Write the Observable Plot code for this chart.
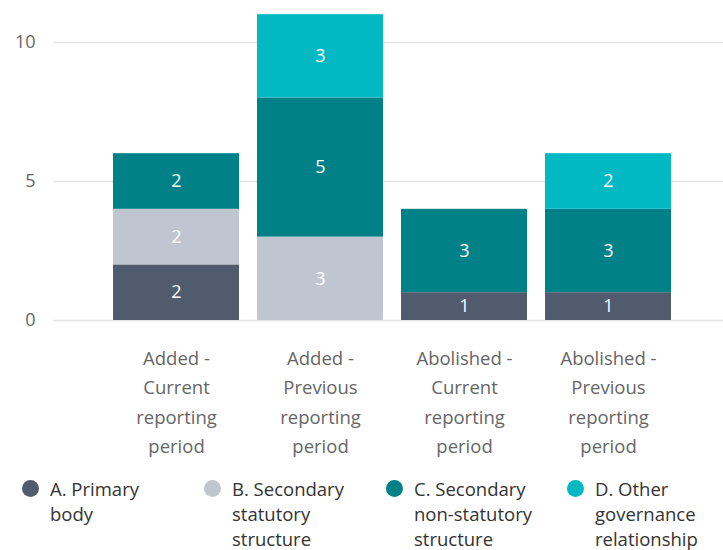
<!DOCTYPE html>
<html>
<head>
<meta charset="utf-8">
<script src="https://cdn.jsdelivr.net/npm/d3@7"></script>
<script src="https://cdn.jsdelivr.net/npm/@observablehq/plot@0.6"></script>
<style>
  html, body { margin: 0; padding: 0; background: #fff; }
  body { width: 723px; height: 550px; overflow: hidden; font-family: "Open Sans", sans-serif; position: relative; }
  #legend { position: absolute; left: 0; top: 476px; width: 723px; height: 74px; }
  .item { position: absolute; top: 0; font-size: 18.5px; line-height: 25px; color: #333; white-space: pre-line; }
  .dot { position: absolute; width: 17px; height: 17px; border-radius: 50%; top: 4px; }
</style>
</head>
<body>
<div id="chart"></div>
<div id="legend"></div>
<script>
const categories = [
  "Added - Current reporting period",
  "Added - Previous reporting period",
  "Abolished - Current reporting period",
  "Abolished - Previous reporting period"
];
const tickLabels = [
  "Added -\nCurrent\nreporting\nperiod",
  "Added -\nPrevious\nreporting\nperiod",
  "Abolished -\nCurrent\nreporting\nperiod",
  "Abolished -\nPrevious\nreporting\nperiod"
];
const seriesNames = [
  "A. Primary body",
  "B. Secondary statutory structure",
  "C. Secondary non-statutory structure",
  "D. Other governance relationship"
];
const legendLabels = [
  "A. Primary\nbody",
  "B. Secondary\nstatutory\nstructure",
  "C. Secondary\nnon-statutory\nstructure",
  "D. Other\ngovernance\nrelationship"
];
const colors = ["#505c6d", "#c0c6cf", "#008087", "#01b8c3"];
const valuesA = [2, 0, 1, 1];
const valuesB = [2, 3, 0, 0];
const valuesC = [2, 5, 3, 3];
const valuesD = [0, 3, 0, 2];
const yTicks = [0, 5, 10];

const seriesValues = [valuesA, valuesB, valuesC, valuesD];
const data = [];
seriesNames.forEach((s, si) => {
  categories.forEach((c, ci) => {
    const v = seriesValues[si][ci];
    if (v > 0) data.push({category: c, series: s, value: v});
  });
});
const labelOf = new Map(categories.map((c, i) => [c, tickLabels[i]]));

const chart = Plot.plot({
  width: 723,
  height: 470,
  marginLeft: 53,
  marginRight: 0,
  marginTop: 0,
  marginBottom: 150,
  style: {fontFamily: "'Open Sans', sans-serif", background: "#fff"},
  x: {domain: categories, range: [103, 680], paddingInner: 0.128, paddingOuter: 0.064},
  y: {domain: [0, 10], range: [320, 42]},
  color: {domain: seriesNames, range: colors},
  marks: [
    Plot.gridY(yTicks, {stroke: "#e4e4e4", strokeOpacity: 1, strokeWidth: 1.6}),
    Plot.barY(data, {x: "category", y: "value", fill: "series", order: seriesNames}),
    Plot.text(data, Plot.stackY({x: "category", y: "value", z: "series", order: seriesNames, text: "value", fill: "white", fontSize: 18})),
    Plot.axisY({ticks: yTicks, tickSize: 0, tickPadding: 18, fontSize: 18, color: "#666", label: null}),
    Plot.axisX({tickSize: 0, tickPadding: 24, fontSize: 18.5, color: "#666", lineHeight: 1.58, tickFormat: d => labelOf.get(d), label: null})
  ]
});
document.getElementById("chart").appendChild(chart);

const legend = document.getElementById("legend");
const lx = [22, 204, 386, 567];
seriesNames.forEach((s, i) => {
  const dot = document.createElement("div");
  dot.className = "dot";
  dot.style.left = lx[i] + "px";
  dot.style.background = colors[i];
  legend.appendChild(dot);
  const t = document.createElement("div");
  t.className = "item";
  t.style.left = (lx[i] + 28) + "px";
  t.textContent = legendLabels[i];
  legend.appendChild(t);
});
</script>
</body>
</html>
